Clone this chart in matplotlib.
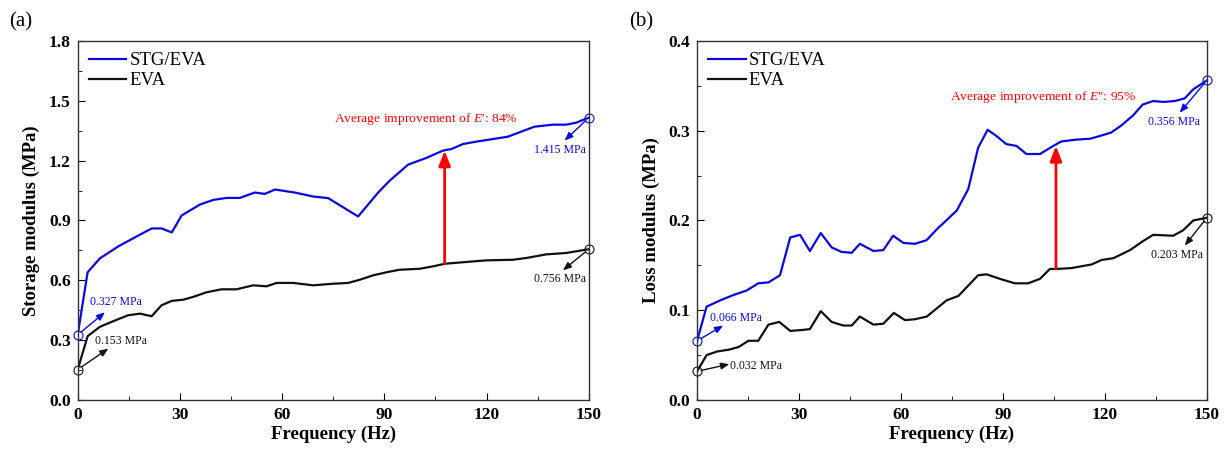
import matplotlib
matplotlib.use("Agg")
import matplotlib.pyplot as plt
from matplotlib.ticker import MultipleLocator, FormatStrFormatter

BLUE = "#0a0ae0"
BLACK = "#111111"
RED = "#ff0000"

plt.rcParams.update({
    "font.family": ["Liberation Serif", "DejaVu Serif"],
    "mathtext.fontset": "custom",
    "mathtext.rm": "Liberation Serif",
    "mathtext.it": "Liberation Serif:italic",
    "axes.edgecolor": "#333333",
    "axes.linewidth": 1.0,
})

# ---- panel (a): storage modulus ----
freq_a_stg = [0, 2.9, 6.5, 11.9, 17.3, 21.7, 24.6, 27.6, 30.5, 35.9, 39.8, 43.7, 47.6, 52, 54.9,
              57.9, 63.7, 69.1, 73.5, 82.3, 88.2, 91.6, 97, 102.3, 107.2, 109.7, 113.1, 117,
              121.9, 126.3, 129.7, 134.1, 139.5, 143.4, 146.3, 150]
stg_storage = [0.327, 0.64, 0.71, 0.77, 0.82, 0.86, 0.86, 0.84, 0.925, 0.98, 1.003, 1.013, 1.013,
               1.04, 1.033, 1.055, 1.04, 1.02, 1.012, 0.92, 1.04, 1.10, 1.18, 1.213, 1.25, 1.258,
               1.283, 1.295, 1.308, 1.32, 1.342, 1.37, 1.38, 1.38, 1.39, 1.415]
freq_a_eva = [0, 2.9, 6.5, 10.4, 14.8, 18.3, 21.7, 24.6, 27.6, 31, 33.9, 37.8, 42.2, 46.6, 51.5,
              55.4, 58.4, 63.2, 69.1, 75, 79.4, 82.8, 86.7, 91.1, 94.5, 100.4, 104.3, 107.7,
              114.1, 119.9, 127.7, 131.7, 137.5, 143.4, 150]
eva_storage = [0.153, 0.32, 0.367, 0.395, 0.425, 0.433, 0.42, 0.475, 0.497, 0.503, 0.517, 0.54,
               0.555, 0.555, 0.575, 0.57, 0.587, 0.587, 0.575, 0.583, 0.587, 0.603, 0.625, 0.642,
               0.653, 0.658, 0.67, 0.683, 0.692, 0.70, 0.703, 0.712, 0.73, 0.737, 0.756]

# ---- panel (b): loss modulus ----
freq_b_stg = [0, 2.8, 6.8, 10.7, 14.6, 18, 21, 24.4, 27.4, 30.3, 33.2, 36.4, 39.6, 42.5, 45.5,
              47.9, 51.9, 54.8, 57.7, 60.7, 64.1, 67.5, 70.5, 76.4, 79.8, 82.7, 85.5, 88.1, 91,
              94, 96.9, 100.9, 104.8, 107.2, 111.6, 115.6, 118.5, 121.9, 124.9, 128.3, 131.1,
              134.2, 137.2, 140.6, 143.5, 146, 150]
stg_loss = [0.066, 0.104, 0.111, 0.117, 0.122, 0.130, 0.131, 0.139, 0.181, 0.184, 0.166, 0.186,
            0.17, 0.165, 0.164, 0.174, 0.166, 0.167, 0.183, 0.175, 0.174, 0.178, 0.19, 0.211,
            0.235, 0.281, 0.301, 0.294, 0.285, 0.283, 0.274, 0.274, 0.283, 0.288, 0.29, 0.291,
            0.294, 0.298, 0.306, 0.317, 0.329, 0.333, 0.332, 0.333, 0.336, 0.346, 0.356]
freq_b_eva = [0, 2.8, 5.8, 9.2, 12.2, 15.1, 18, 21, 24.2, 27.4, 30.8, 33.2, 36.4, 39.6, 43, 45.5,
              47.9, 51.9, 54.8, 57.9, 61.2, 64.1, 67.6, 73.4, 76.9, 82.7, 85.2, 89.1, 93.5, 97.4,
              100.9, 103.8, 105.8, 110.2, 116.1, 119, 122.5, 127.4, 130.8, 134.2, 140.1, 143,
              146, 150]
eva_loss = [0.032, 0.05, 0.054, 0.056, 0.059, 0.066, 0.066, 0.084, 0.087, 0.077, 0.078, 0.079,
            0.099, 0.087, 0.083, 0.083, 0.093, 0.084, 0.085, 0.097, 0.089, 0.090, 0.093, 0.111,
            0.116, 0.139, 0.14, 0.135, 0.13, 0.13, 0.135, 0.146, 0.146, 0.147, 0.151, 0.156,
            0.158, 0.167, 0.176, 0.184, 0.183, 0.189, 0.2, 0.203]

fig = plt.figure(figsize=(12.24, 4.49), dpi=100)
ax1 = fig.add_axes([0.0635, 0.109, 0.4175, 0.800])
ax2 = fig.add_axes([0.5695, 0.109, 0.4165, 0.800])


def style_axis(ax, ymax, ymajor, ylabel):
    ax.set_xlim(0, 150)
    ax.set_ylim(0, ymax)
    ax.xaxis.set_major_locator(MultipleLocator(30))
    ax.xaxis.set_minor_locator(MultipleLocator(15))
    ax.yaxis.set_major_locator(MultipleLocator(ymajor))
    ax.yaxis.set_minor_locator(MultipleLocator(ymajor / 2))
    ax.yaxis.set_major_formatter(FormatStrFormatter("%.1f"))
    ax.tick_params(which="both", direction="in", top=False, right=False)
    ax.tick_params(which="major", length=5, labelsize=12.5, pad=5)
    ax.tick_params(which="minor", length=3)
    for lab in ax.get_xticklabels() + ax.get_yticklabels():
        lab.set_fontweight("bold")
    ax.set_xlabel("Frequency (Hz)", fontsize=13.5, fontweight="bold", labelpad=2)
    ax.set_ylabel(ylabel, fontsize=13.5, fontweight="bold", labelpad=6)
    ax.legend(loc="upper left", frameon=False, fontsize=13.5, handlelength=2.0,
              handletextpad=0.15, borderaxespad=0.2, labelspacing=0.15)


def endpoint_note(ax, x, y, tip, text_xy, label, color, ha="center"):
    ax.plot([x], [y], "o", mfc="none", mec=color, ms=6.5, mew=0.8, clip_on=False)
    ax.annotate("", xy=tip, xytext=(x, y),
                arrowprops=dict(arrowstyle="-|>,head_width=0.2,head_length=0.5",
                                color=color, lw=1.0, shrinkA=3, shrinkB=0))
    ax.text(text_xy[0], text_xy[1], label, color=color, fontsize=8.5, ha=ha, va="center")


def red_arrow(ax, x, y0, y1):
    ax.annotate("", xy=(x, y1), xytext=(x, y0),
                arrowprops=dict(arrowstyle="-|>,head_width=0.35,head_length=0.9",
                                color=RED, lw=2, shrinkA=0, shrinkB=0))


# (a)
ax1.plot(freq_a_stg, stg_storage, color=BLUE, lw=1.6, label="STG/EVA")
ax1.plot(freq_a_eva, eva_storage, color=BLACK, lw=1.6, label="EVA")
style_axis(ax1, 1.8, 0.3, "Storage modulus (MPa)")
endpoint_note(ax1, 0, 0.327, (8, 0.44), (11.2, 0.49), "0.327 MPa", BLUE)
endpoint_note(ax1, 0, 0.153, (9, 0.258), (12.6, 0.297), "0.153 MPa", BLACK)
endpoint_note(ax1, 150, 1.415, (142.9, 1.30), (141.4, 1.253), "1.415 MPa", BLUE)
endpoint_note(ax1, 150, 0.756, (142.4, 0.65), (141.5, 0.605), "0.756 MPa", BLACK)
red_arrow(ax1, 107.7, 0.683, 1.25)
ax1.text(102.3, 1.41, "Average improvement of $E$′: 84%", color=RED, fontsize=9.7,
         ha="center", va="center")

# (b)
ax2.plot(freq_b_stg, stg_loss, color=BLUE, lw=1.6, label="STG/EVA")
ax2.plot(freq_b_eva, eva_loss, color=BLACK, lw=1.6, label="EVA")
style_axis(ax2, 0.4, 0.1, "Loss modulus (MPa)")
endpoint_note(ax2, 0, 0.066, (7.7, 0.083), (11.4, 0.0915), "0.066 MPa", BLUE)
endpoint_note(ax2, 0, 0.032, (9.5, 0.04), (9.8, 0.038), "0.032 MPa", BLACK, ha="left")
endpoint_note(ax2, 150, 0.356, (142, 0.32), (140.3, 0.31), "0.356 MPa", BLUE)
endpoint_note(ax2, 150, 0.203, (143.5, 0.172), (141.3, 0.161), "0.203 MPa", BLACK)
red_arrow(ax2, 105.6, 0.146, 0.283)
ax2.text(101.9, 0.337, "Average improvement of $E$″: 95%", color=RED, fontsize=9.7,
         ha="center", va="center")

fig.text(0.017, 0.952, "(a)", fontsize=15, ha="center", va="center")
fig.text(0.524, 0.952, "(b)", fontsize=15, ha="center", va="center")

fig.savefig("out.png", dpi=100)
